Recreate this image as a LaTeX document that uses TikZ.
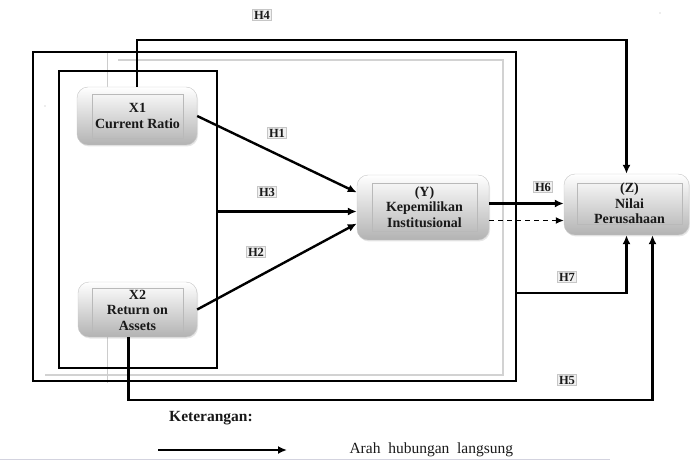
\documentclass[tikz,border=0pt]{standalone}
\usepackage{fontspec}
\setmainfont{Liberation Serif}
\usetikzlibrary{arrows.meta,calc,shadows}

\tikzset{
  blok/.style={rounded corners=11pt, draw=gray!45, top color=white, bottom color=gray!60,
    drop shadow={opacity=0.2, shadow xshift=1pt, shadow yshift=-1.5pt}},
  isi/.style={draw=gray!55, line width=0.7pt, align=center, inner sep=0pt,
    font=\fontsize{14}{15.5}\selectfont\bfseries, text=black!90},
  hipo/.style={draw=gray!45, fill=gray!12, inner sep=1.5pt,
    font=\fontsize{12.5}{13}\selectfont\bfseries, text=black!90},
  panah/.style={line width=2.4pt, -{Latex[length=9pt,width=8pt]}},
  garis/.style={line width=2.4pt},
}

\begin{document}
\begin{tikzpicture}[x=1pt, y=-1pt]
\useasboundingbox (0,0) rectangle (690,462);

% thin gray guide lines behind the frames
\draw[gray!35, line width=1.8pt] (45,375) -- (503,375) -- (503,60) -- (118,60);
\draw[gray!40, line width=0.6pt] (107,52) -- (107,87) (107,337) -- (107,383);
\fill[gray!60] (45,106) circle (0.6pt) (660,13) circle (0.6pt);

% frames: whole model and the two exogenous variables
\node[garis, draw, minimum width=483pt, minimum height=329pt, inner sep=0pt] (luar) at (274.5,216.5) {};
\node[garis, draw, minimum width=158pt, minimum height=297pt, inner sep=0pt] (eksogen) at (138,219.5) {};

% variables
\node[blok, minimum width=120pt, minimum height=58pt] (x1) at (137,116) {};
\node[isi, minimum width=91pt, minimum height=44pt] (x1t) at (137.5,116) {X1\\Current Ratio};

\node[blok, minimum width=119pt, minimum height=55pt] (x2) at (137.5,309.5) {};
\node[isi, minimum width=91pt, minimum height=44pt] (x2t) at (137.5,310) {X2\\Return on\\Assets};

\node[blok, minimum width=132pt, minimum height=65pt] (y) at (423,207.5) {};
\node[isi, minimum width=105pt, minimum height=48pt] (yt) at (424.5,207) {(Y)\\Kepemilikan\\Institusional};

\node[blok, minimum width=125pt, minimum height=61pt] (z) at (626.5,204.5) {};
\node[isi, minimum width=105pt, minimum height=41pt] (zt) at (629.5,203.5) {(Z)\\Nilai\\Perusahaan};

% paths
\coordinate (h4) at (400,40);
\draw[panah] (x1.north) |- (h4) -| (z.north);
\draw[panah] (x1.east) -- ($(y.west)+(0,-15)$);
\coordinate (y3) at ($(y.west)+(0,4)$);
\draw[panah] (eksogen.east |- y3) -- (y3);
\draw[panah] (x2.east) -- ($(y.west)+(0,16)$);
\coordinate (y6) at ($(y.east)+(0,-4)$);
\draw[panah] (y6) -- (z.west |- y6);
\coordinate (y8) at ($(y.east)+(0,13)$);
\draw[line width=1.3pt, dash pattern=on 5pt off 4pt, -{Latex[length=8pt,width=7pt]}] (y8) -- (z.west |- y8);
\coordinate (h7) at (0,293);
\draw[panah] (luar.east |- h7) -| (z.south);
\coordinate (h5) at (400,400);
\draw[panah] ($(x2.south)+(-9,0)$) |- (h5) -| ($(z.south)+(26,0)$);

% hypothesis labels
\node[hipo] (lh4) at (262,15) {H4};
\node[hipo] (lh1) at (277,133) {H1};
\node[hipo] (lh3) at (267,192) {H3};
\node[hipo] (lh2) at (256,252) {H2};
\node[hipo] (lh6) at (543,187) {H6};
\node[hipo] (lh7) at (567,277) {H7};
\node[hipo] (lh5) at (567,380) {H5};

% legend
\node[font=\fontsize{15.5}{17}\selectfont\bfseries, text=black!90] (ket) at (211,418) {Keterangan:};
\coordinate (leg) at (158,450);
\draw[panah] (leg) -- ++(129,0);
\node[anchor=west, font=\fontsize{15.5}{17}\selectfont, text=black!90] (arah) at (346,450) {Arah\ \ hubungan\ \ langsung};
\draw[blue!15!gray!30, line width=0.6pt] (0,459) -- (610,459);

\end{tikzpicture}
\end{document}
